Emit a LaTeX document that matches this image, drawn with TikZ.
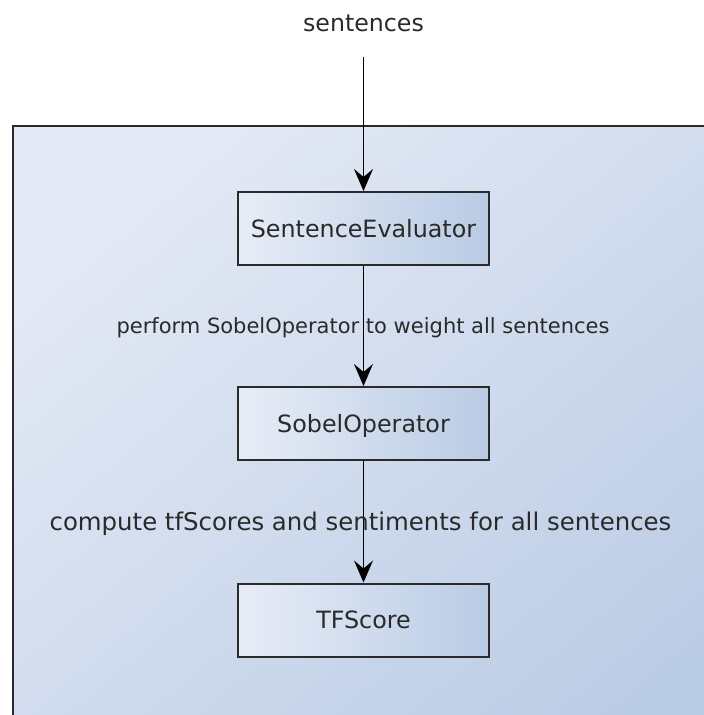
\documentclass[tikz,border=0pt]{standalone}
\usepackage{fontspec}
\setmainfont{DejaVu Sans}
\usetikzlibrary{arrows.meta}
\definecolor{inkgray}{HTML}{2A2A2A}
\definecolor{frameA}{HTML}{E3E9F5}
\definecolor{frameB}{HTML}{BBCCE5}
\definecolor{boxA}{HTML}{E7EDF7}
\definecolor{boxB}{HTML}{B9CBE4}
\tikzset{
  classbox/.style={draw=inkgray, line width=2pt, left color=boxA, right color=boxB,
    minimum width=251pt, minimum height=73pt, inner sep=0pt,
    text height=17.5pt, text depth=0pt, text=inkgray,
    font=\fontsize{23.8}{28}\selectfont},
  flow/.style={draw=black, line width=1.6pt,
    -{Stealth[length=22pt, width=19pt, inset=8pt]}},
  flowlabel/.style={text=inkgray, inner sep=0pt, anchor=base},
}
\begin{document}
\begin{tikzpicture}[x=1pt, y=-1pt]
  \path[use as bounding box] (0,0) rectangle (704,715);
  \clip (0,0) rectangle (704,715);

  % enclosing component frame (runs past the lower and right edges)
  \draw[draw=inkgray, line width=2.6pt, top color=frameA, bottom color=frameB, shading angle=40]
    (13,126) rectangle (760,780);

  % input label and its entry point
  \node[flowlabel, font=\fontsize{23.7}{28}\selectfont] (input) at (363.5,31) {sentences};
  \coordinate (inputEnd) at (363.5,57);

  % class boxes
  \node[classbox] (se) at (363.5,228.5) {SentenceEvaluator};
  \node[classbox] (so) at (363.5,423.5) {SobelOperator};
  \node[classbox] (tf) at (363.5,620) {TFScore};

  % connectors
  \draw[flow] (inputEnd) -- (se.north);
  \draw[flow] (se.south) -- (so.north);
  \draw[flow] (so.south) -- (tf.north);

  % connector labels
  \node[flowlabel, font=\fontsize{21}{25}\selectfont] (lab1) at (363,333)
    {perform SobelOperator to weight all sentences};
  \node[flowlabel, font=\fontsize{24.4}{29}\selectfont] (lab2) at (360.5,530)
    {compute tfScores and sentiments for all sentences};
\end{tikzpicture}
\end{document}
